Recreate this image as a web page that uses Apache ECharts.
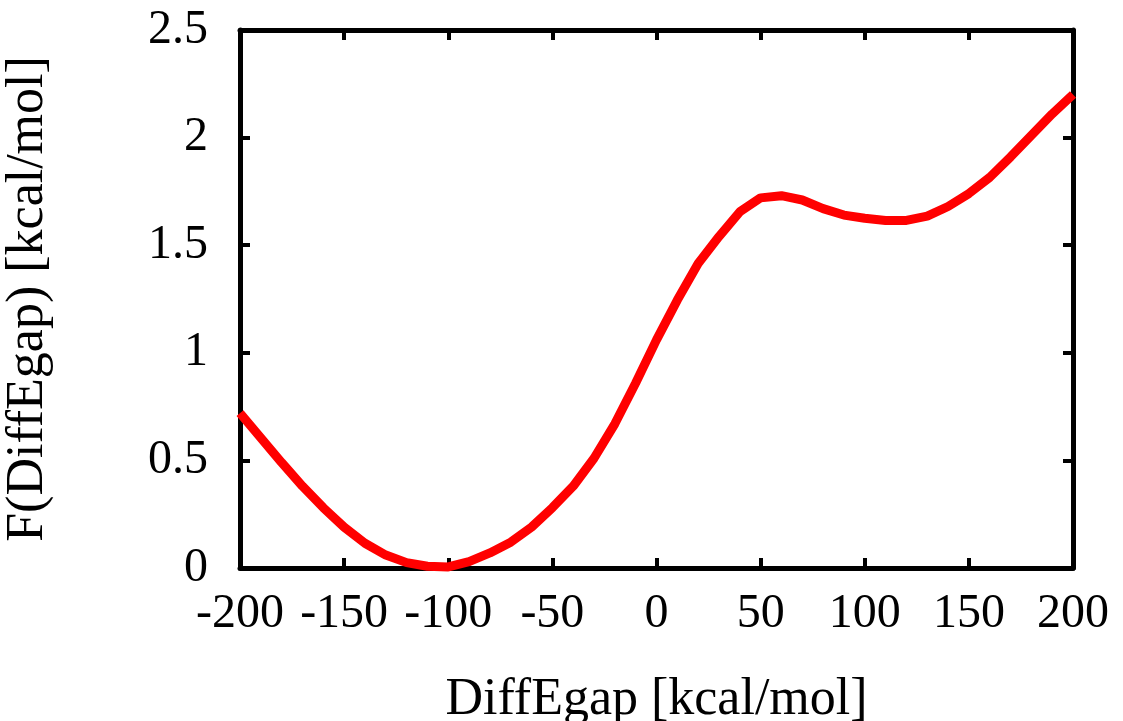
<!DOCTYPE html>
<html>
<head>
<meta charset="utf-8">
<script src="https://cdn.jsdelivr.net/npm/echarts@6/dist/echarts.min.js"></script>
<style>html,body{margin:0;padding:0;background:#fff}#c{width:1123px;height:721px}</style>
</head>
<body>
<div id="c"></div>
<script>
const xValues = [-200,-190,-180,-170,-160,-150,-140,-130,-120,-110,-100,-90,-80,-70,-60,-50,-40,-30,-20,-10,0,10,20,30,40,50,60,70,80,90,100,110,120,130,140,150,160,170,180,190,200];
const fValues = [0.72,0.605,0.49,0.38,0.28,0.19,0.115,0.06,0.025,0.008,0.005,0.03,0.07,0.12,0.19,0.28,0.38,0.51,0.67,0.86,1.06,1.245,1.415,1.54,1.655,1.72,1.73,1.71,1.67,1.64,1.625,1.615,1.615,1.635,1.68,1.74,1.815,1.91,2.01,2.11,2.2];
const xTicks = [-200,-150,-100,-50,0,50,100,150,200];
const yTicks = [0,0.5,1,1.5,2,2.5];

const font = 'Liberation Serif';
const chart = echarts.init(document.getElementById('c'), null, {renderer:'canvas'});
const axLine = {show:true, onZero:false, lineStyle:{color:'#000', width:5}};
const tick = {show:true, inside:true, length:10, lineStyle:{color:'#000', width:4}};
chart.setOption({
  animation:false,
  backgroundColor:'#fff',
  grid:{left:240, right:50, top:30, bottom:153, containLabel:false, outerBoundsMode:'none'},
  xAxis:[
    {type:'value', min:-200, max:200, interval:50, position:'bottom',
     axisLine:axLine, axisTick:tick, splitLine:{show:false},
     axisLabel:{fontFamily:font, fontSize:48, color:'#000', margin:22,
       formatter:v=>xTicks.includes(v)?String(v):''},
     name:'DiffEgap [kcal/mol]', nameLocation:'middle', nameGap:106,
     nameTextStyle:{fontFamily:font, fontSize:52, color:'#000'}},
    {type:'value', min:-200, max:200, interval:50, position:'top',
     axisLine:axLine, axisTick:tick, splitLine:{show:false}, axisLabel:{show:false}}
  ],
  yAxis:[
    {type:'value', min:0, max:2.5, interval:0.5, position:'left',
     axisLine:axLine, axisTick:tick, splitLine:{show:false},
     axisLabel:{fontFamily:font, fontSize:48, color:'#000', margin:32,
       formatter:v=>{const t=yTicks.find(a=>Math.abs(a-v)<1e-9);return t===undefined?'':String(t);}},
     name:'F(DiffEgap) [kcal/mol]', nameLocation:'middle', nameGap:186, nameRotate:90,
     nameTextStyle:{fontFamily:font, fontSize:52, color:'#000'}},
    {type:'value', min:0, max:2.5, interval:0.5, position:'right',
     axisLine:axLine, axisTick:tick, splitLine:{show:false}, axisLabel:{show:false}}
  ],
  series:[{
    type:'line', xAxisIndex:0, yAxisIndex:0,
    data:xValues.map((x,i)=>[x,fValues[i]]),
    showSymbol:false, smooth:false, clip:false,
    lineStyle:{color:'#ff0000', width:9}
  }]
});
</script>
</body>
</html>
